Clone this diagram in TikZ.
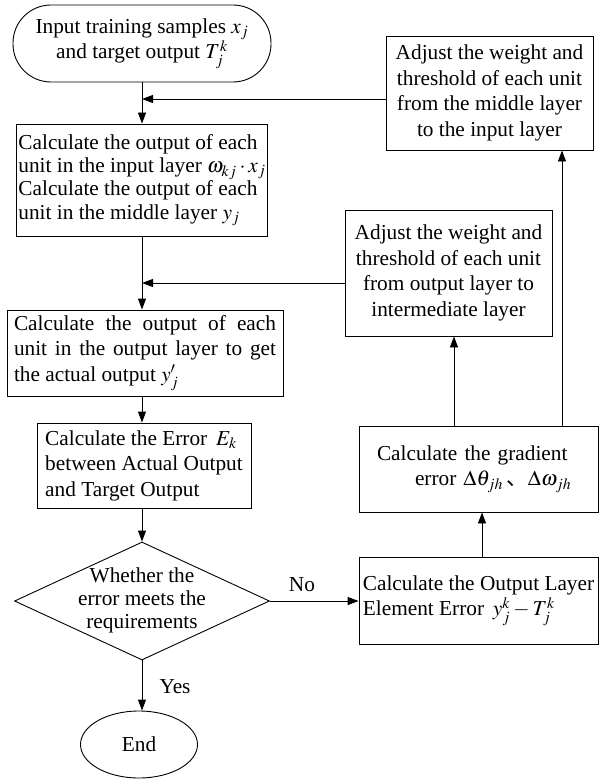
\documentclass[tikz,border=0pt]{standalone}
\usepackage{mathptmx}
\usepackage{fontspec}
\setmainfont{Liberation Serif}
\newfontfamily\cjk{Noto Sans CJK SC}
\usetikzlibrary{arrows.meta,shapes.geometric}
\newcommand\myfs{\fontsize{21.3}{25.5}\selectfont}
\newcommand\myfsb{\fontsize{21.3}{23.3}\selectfont}
\begin{document}
\begin{tikzpicture}[x=1pt,y=-1pt,
  box/.style={draw, line width=0.9pt, inner sep=0pt, font=\myfs},
  arr/.style={draw, line width=0.9pt, -{Triangle[length=11pt,width=8pt]}},
  lbl/.style={inner sep=0pt, font=\myfs}]
\useasboundingbox (0,0) rectangle (600,781);

% main column
\node[box, rounded corners=38pt, minimum width=258, minimum height=77, align=center]
  (start) at (142,43.5) {Input training samples $x_j$\\ and target output $T_j^k$};
\node[box, font=\myfsb, minimum width=251, minimum height=112, align=left]
  (b1) at (142,180) {Calculate the output of each\\ unit in the input layer $\omega_{kj}\cdot x_j$\\ Calculate the output of each\\ unit in the middle layer $y_j$};
\node[box, minimum width=276, minimum height=86, text width=262, align=justify]
  (b2) at (145,353) {Calculate the output of each\linebreak unit in the output layer to get\linebreak the actual output $y^{\prime}_{j}$};
\node[box, minimum width=214, minimum height=85, align=left]
  (b3) at (144,465.5) {Calculate the Error \,$E_k$\\ between Actual Output\\ and Target Output};
\node[draw, line width=0.9pt, diamond, aspect=2, inner sep=0pt, minimum width=255, minimum height=118]
  (dec) at (142,601) {};
\node[lbl, align=center, font=\fontsize{21.3}{23}\selectfont] (dtext) at (142,600)
  {Whether the\\ error meets the\\ requirements};
\node[box, ellipse, minimum width=117, minimum height=67] (endn) at (139,744.5) {End};

% right column
\node[box, minimum width=207, minimum height=114, align=center]
  (a1) at (489.5,93) {Adjust the weight and\\ threshold of each unit\\ from the middle layer\\ to the input layer};
\node[box, minimum width=207, minimum height=126, align=center]
  (a2) at (448.5,273) {Adjust the weight and\\ threshold of each unit\\ from output layer to\\ intermediate layer};
\node[box, minimum width=239, minimum height=86, text width=221, align=left]
  (g) at (478.5,469) {\hspace*{9pt}Calculate the gradient\\ \hspace*{47pt}error $\Delta\theta_{jh}$\,{\cjk 、}$\Delta\omega_{jh}$};
\node[box, minimum width=239, minimum height=87, align=left]
  (err) at (478.5,600.5) {Calculate the Output Layer\\ Element Error \,$y_j^k-T_j^k$};

% labels
\node[lbl] (no) at (302,585) {No};
\node[lbl] (yes) at (175,687) {Yes};

% main flow
\draw[arr] (start.south) -- (start.south |- b1.north);
\draw[arr] (b1.south) -- (b1.south |- b2.north);
\draw[arr] (b1.south |- b2.south) -- (b1.south |- b3.north);
\draw[arr] (b1.south |- b3.south) -- (dec.north);
\draw[arr] (dec.south) -- (dec.south |- endn.north);
\draw[arr] (dec.east) -- (dec.east -| err.west);

% feedback
\coordinate (e1) at ([xshift=3.5pt]err.north);
\draw[arr] (e1) -- (e1 |- g.south);
\coordinate (g1) at ([xshift=-24.5pt]g.north);
\draw[arr] (g1) -- (g1 |- a2.south);
\coordinate (g2) at ([xshift=83.5pt]g.north);
\draw[arr] (g2) -- (g2 |- a1.south);
\coordinate (f2) at ([yshift=-10pt]a2.west);
\draw[arr] (f2) -- (f2 -| b1.south);
\coordinate (f1) at ([yshift=-6pt]a1.west);
\draw[arr] (f1) -- (f1 -| start.south);
\end{tikzpicture}
\end{document}
